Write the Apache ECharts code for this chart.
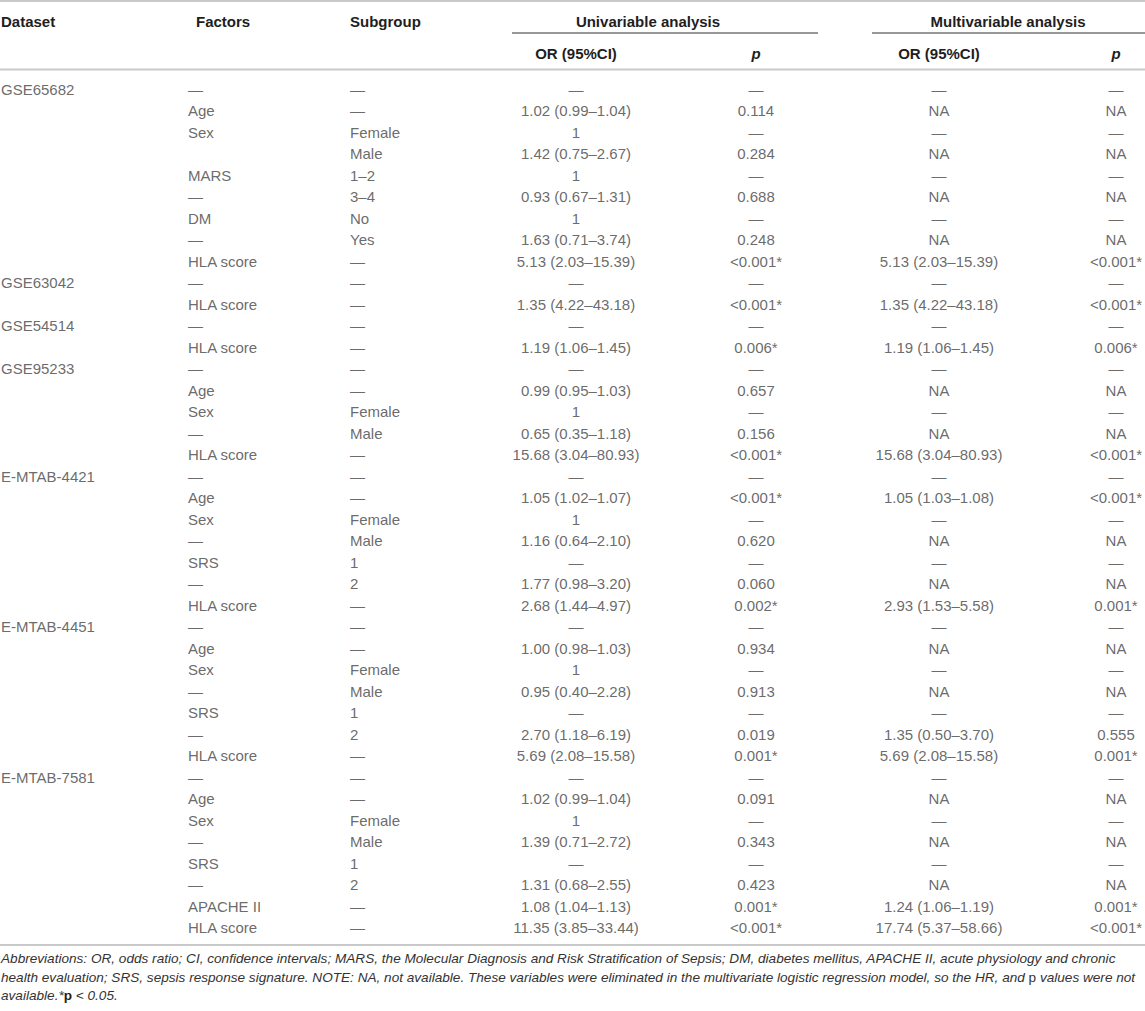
<!DOCTYPE html>
<html>
<head>
<meta charset="utf-8">
<script src="https://cdn.jsdelivr.net/npm/echarts@6/dist/echarts.min.js"></script>
<style>
html,body{margin:0;padding:0;background:#fff;}
#main{width:1145px;height:1011px;}
</style>
</head>
<body>
<div id="main"></div>
<script>
// ---------- data ----------
const headerMain = ['Dataset', 'Factors', 'Subgroup'];
const headerSpan = ['Univariable analysis', 'Multivariable analysis'];
const headerSub = ['OR (95%CI)', 'p', 'OR (95%CI)', 'p'];

const datasets = ['GSE65682','','','','','','','','',
  'GSE63042','',
  'GSE54514','',
  'GSE95233','','','','',
  'E-MTAB-4421','','','','','','',
  'E-MTAB-4451','','','','','','',
  'E-MTAB-7581','','','','','','',''];

const factors = ['—','Age','Sex','','MARS','—','DM','—','HLA score',
  '—','HLA score',
  '—','HLA score',
  '—','Age','Sex','—','HLA score',
  '—','Age','Sex','—','SRS','—','HLA score',
  '—','Age','Sex','—','SRS','—','HLA score',
  '—','Age','Sex','—','SRS','—','APACHE II','HLA score'];

const subgroups = ['—','—','Female','Male','1–2','3–4','No','Yes','—',
  '—','—',
  '—','—',
  '—','—','Female','Male','—',
  '—','—','Female','Male','1','2','—',
  '—','—','Female','Male','1','2','—',
  '—','—','Female','Male','1','2','—','—'];

const uniOR = ['—','1.02 (0.99–1.04)','1','1.42 (0.75–2.67)','1','0.93 (0.67–1.31)','1','1.63 (0.71–3.74)','5.13 (2.03–15.39)',
  '—','1.35 (4.22–43.18)',
  '—','1.19 (1.06–1.45)',
  '—','0.99 (0.95–1.03)','1','0.65 (0.35–1.18)','15.68 (3.04–80.93)',
  '—','1.05 (1.02–1.07)','1','1.16 (0.64–2.10)','—','1.77 (0.98–3.20)','2.68 (1.44–4.97)',
  '—','1.00 (0.98–1.03)','1','0.95 (0.40–2.28)','—','2.70 (1.18–6.19)','5.69 (2.08–15.58)',
  '—','1.02 (0.99–1.04)','1','1.39 (0.71–2.72)','—','1.31 (0.68–2.55)','1.08 (1.04–1.13)','11.35 (3.85–33.44)'];

const uniP = ['—','0.114','—','0.284','—','0.688','—','0.248','<0.001*',
  '—','<0.001*',
  '—','0.006*',
  '—','0.657','—','0.156','<0.001*',
  '—','<0.001*','—','0.620','—','0.060','0.002*',
  '—','0.934','—','0.913','—','0.019','0.001*',
  '—','0.091','—','0.343','—','0.423','0.001*','<0.001*'];

const multiOR = ['—','NA','—','NA','—','NA','—','NA','5.13 (2.03–15.39)',
  '—','1.35 (4.22–43.18)',
  '—','1.19 (1.06–1.45)',
  '—','NA','—','NA','15.68 (3.04–80.93)',
  '—','1.05 (1.03–1.08)','—','NA','—','NA','2.93 (1.53–5.58)',
  '—','NA','—','NA','—','1.35 (0.50–3.70)','5.69 (2.08–15.58)',
  '—','NA','—','NA','—','NA','1.24 (1.06–1.19)','17.74 (5.37–58.66)'];

const multiP = ['—','NA','—','NA','—','NA','—','NA','<0.001*',
  '—','<0.001*',
  '—','0.006*',
  '—','NA','—','NA','<0.001*',
  '—','<0.001*','—','NA','—','NA','0.001*',
  '—','NA','—','NA','—','0.555','0.001*',
  '—','NA','—','NA','—','NA','0.001*','<0.001*'];

const captionLines = [
  'Abbreviations: OR, odds ratio; CI, confidence intervals; MARS, the Molecular Diagnosis and Risk Stratification of Sepsis; DM, diabetes mellitus, APACHE II, acute physiology and chronic',
  ['health evaluation; SRS, sepsis response signature. NOTE: NA, not available. These variables were eliminated in the multivariate logistic regression model, so the HR, and ', 'p', ' values were not'],
  ['available.*', 'p', ' < 0.05.']
];

// ---------- layout ----------
const FONT = '"Liberation Sans", Arial, Helvetica, sans-serif';
const BODY_COLOR = '#444444';
const HEAD_COLOR = '#1e1e1e';
const RULE_COLOR = '#c9c9c9';
const ROW_H = 21.5;
const FIRST_ROW_Y = 89;
const N = datasets.length;
const GRID_TOP = FIRST_ROW_Y - ROW_H / 2;
const COL_W = 170;
const CAP_SIZE = 13.6;

const columns = [
  { values: datasets,  align: 'left',   pos: 1 },
  { values: factors,   align: 'left',   pos: 188 },
  { values: subgroups, align: 'left',   pos: 350 },
  { values: uniOR,     align: 'center', pos: 576 },
  { values: uniP,      align: 'center', pos: 756 },
  { values: multiOR,   align: 'center', pos: 939 },
  { values: multiP,    align: 'center', pos: 1116 }
];
const headerMainX = [1, 196, 350];
const headerSpanX = [648, 1008];
const headerSubX = [576, 756, 939, 1116];
const underlines = [[512, 818], [872, 1145]];

const rowIds = datasets.map((_, i) => String(i));

const grids = [], xAxes = [], yAxes = [], series = [];
columns.forEach((c, i) => {
  const left = c.align === 'left' ? c.pos : c.pos - COL_W / 2;
  grids.push({ left: left, top: GRID_TOP, width: COL_W, height: ROW_H * N, outerBoundsMode: 'none', containLabel: false });
  xAxes.push({ type: 'value', gridIndex: i, min: 0, max: 1, show: false });
  yAxes.push({ type: 'category', gridIndex: i, data: rowIds, inverse: true, show: false, boundaryGap: true });
  const anchor = c.align === 'left' ? 0 : 0.5;
  const data = [];
  c.values.forEach((v, r) => { if (v !== '') data.push({ value: [anchor, r], text: v }); });
  series.push({
    type: 'scatter',
    xAxisIndex: i, yAxisIndex: i,
    symbolSize: 1,
    itemStyle: { color: 'rgba(0,0,0,0)' },
    silent: true,
    data: data,
    label: {
      show: true,
      position: 'inside',
      align: c.align,
      verticalAlign: 'middle',
      fontFamily: FONT,
      fontSize: 15,
      color: BODY_COLOR,
      formatter: p => p.data.text
    },
    emphasis: { disabled: true }
  });
});

const graphics = [];
function hline(x1, x2, y, w, color) {
  graphics.push({ type: 'line', silent: true, shape: { x1: x1, y1: y, x2: x2, y2: y }, style: { stroke: color, lineWidth: w } });
}
function text(x, y, str, opts) {
  graphics.push({ type: 'text', silent: true, x: x, y: y,
    style: Object.assign({ text: str, fill: HEAD_COLOR, font: 'bold 15px ' + FONT, align: 'left', verticalAlign: 'middle' }, opts || {}) });
}
// rules
hline(0, 1145, 1, 2, RULE_COLOR);
hline(0, 1145, 69.5, 2, RULE_COLOR);
hline(0, 1145, 945, 2, RULE_COLOR);
underlines.forEach(u => hline(u[0], u[1], 33, 1.2, '#333'));
// headers
headerMain.forEach((h, i) => text(headerMainX[i], 21, h));
headerSpan.forEach((h, i) => text(headerSpanX[i], 21, h, { align: 'center' }));
headerSub.forEach((h, i) => text(headerSubX[i], 53, h, { align: 'center', font: (h === 'p' ? 'italic bold 15px ' : 'bold 15px ') + FONT }));
// caption
const capY = [958, 977, 995];
const capRich = {
  i: { fontStyle: 'italic', fontSize: CAP_SIZE, fontFamily: FONT, fill: '#333', color: '#333' },
  u: { fontStyle: 'normal', fontSize: CAP_SIZE, fontFamily: FONT, fill: '#333', color: '#333' },
  b: { fontStyle: 'normal', fontWeight: 'bold', fontSize: CAP_SIZE, fontFamily: FONT, fill: '#222', color: '#222' }
};
captionLines.forEach((ln, i) => {
  let t;
  if (typeof ln === 'string') t = '{i|' + ln + '}';
  else if (i === 1) t = '{i|' + ln[0] + '}{u|' + ln[1] + '}{i|' + ln[2] + '}';
  else t = '{i|' + ln[0] + '}{b|' + ln[1] + '}{i|' + ln[2] + '}';
  graphics.push({ type: 'text', silent: true, x: 1, y: capY[i],
    style: { text: t, rich: capRich, align: 'left', verticalAlign: 'middle', font: 'italic ' + CAP_SIZE + 'px ' + FONT, fill: '#333' } });
});

const chart = echarts.init(document.getElementById('main'), null, { renderer: 'svg' });
chart.setOption({
  animation: false,
  backgroundColor: '#fff',
  grid: grids,
  xAxis: xAxes,
  yAxis: yAxes,
  series: series,
  graphic: graphics
});
</script>
</body>
</html>
